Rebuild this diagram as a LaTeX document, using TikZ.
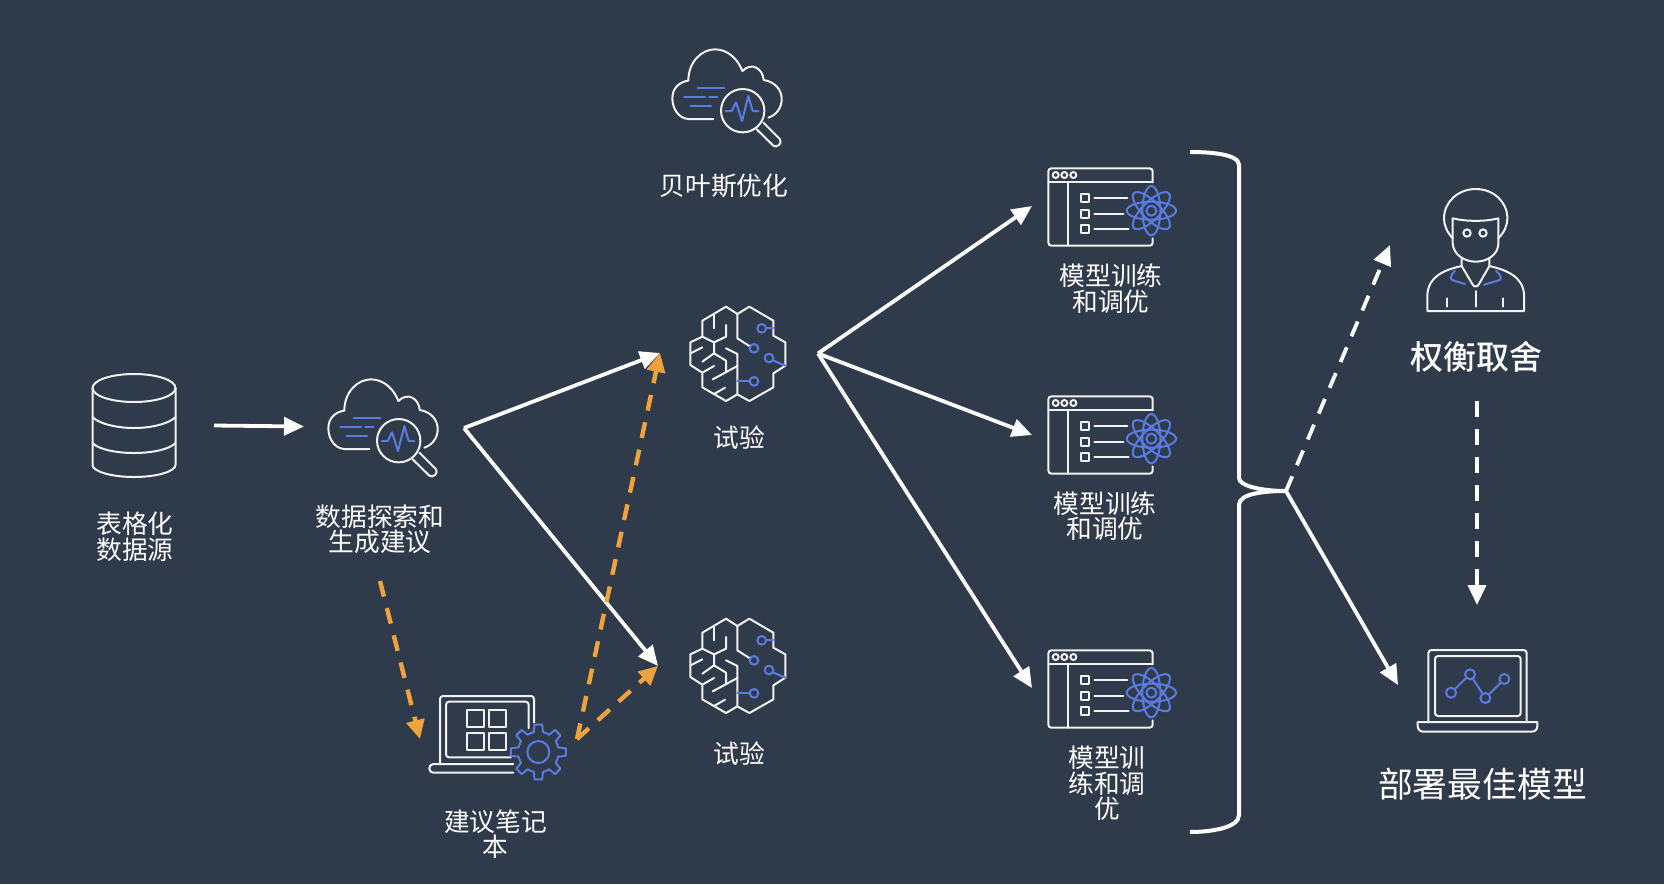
\documentclass[tikz,border=0pt]{standalone}
\usepackage{fontspec}
\setmainfont{Noto Sans CJK SC}
\newfontfamily\mediumcjk{Noto Sans CJK SC Medium}
\usetikzlibrary{arrows.meta}

\definecolor{bgdark}{HTML}{2F3A4A}
\definecolor{flowgold}{HTML}{F0A23C}
\definecolor{iconblue}{HTML}{5A7CE2}
\definecolor{iconline}{HTML}{F2F2F2}

\tikzset{
    flowsolid/.style={draw=white, line width=1.9pt, -{Triangle[length=10pt,width=9pt]}},
    flowdash/.style={flowsolid, dash pattern=on 8pt off 6pt},
    flowgolden/.style={draw=flowgold, line width=2.2pt, dash pattern=on 8pt off 6pt, -{Triangle[length=9.5pt,width=9pt]}},
    label/.style={text=white, align=center, font=\fontsize{12.85}{12.8}\selectfont, inner sep=0pt},
    iconw/.style={draw=iconline, line width=1pt, line join=round, line cap=round},
    iconb/.style={draw=iconblue, line width=1pt, line join=round, line cap=round},
    bluedot/.style={circle, draw=iconblue, line width=1pt, minimum size=5pt, inner sep=0pt},
    % icons are written in crop units, one third of a pixel
    pics/cloudicon/.style={code={
        \begin{scope}[x=0.1667pt,y=-0.1667pt]
            \draw[iconw] (280,267) -- (205,267) .. controls (175,265) and (157,235) .. (157,205)
                .. controls (157,175) and (178,155) .. (205,152)
                .. controls (205,95) and (245,58) .. (285,58)
                .. controls (325,58) and (355,90) .. (367,123)
                .. controls (395,95) and (428,115) .. (431,150)
                .. controls (465,155) and (485,180) .. (485,207)
                .. controls (485,235) and (468,255) .. (445,263);
            \draw[iconw] (368,242) circle (65);
            \draw[iconw] (410,298) -- (460,347) .. controls (470,355) and (488,340) .. (480,328) -- (430,278);
            \draw[iconb] (233,173) -- (313,173);
            \draw[iconb] (193,200) -- (255,200);
            \draw[iconb] (268,200) -- (292,200);
            \draw[iconb] (212,227) -- (273,227);
            \draw[iconb] (317,243) -- (335,243) -- (348,217) -- (366,273) -- (385,198) -- (398,243) -- (415,243);
        \end{scope}
    }},
    pics/brainicon/.style={code={
        \begin{scope}[x=0.1667pt,y=-0.1667pt]
            \draw[iconw] (232,72) -- (198,50) -- (127,92) -- (127,140) -- (91,157) -- (91,225) -- (127,248)
                -- (127,292) -- (198,333) -- (232,313) -- (268,333) -- (340,292) -- (340,250) -- (376,227)
                -- (376,157) -- (340,137) -- (340,92) -- (268,50) -- cycle;
            \draw[iconw] (232,72) -- (232,145) -- (268,168);
            \draw[iconw] (198,175) -- (232,192) -- (232,313);
            \draw[iconw] (162,72) -- (162,115);
            \draw[iconw] (198,105) -- (198,140) -- (162,157) -- (127,140);
            \draw[iconw] (162,157) -- (162,190) -- (127,215);
            \draw[iconw] (162,190) -- (198,212) -- (198,245);
            \draw[iconw] (91,190) -- (127,172);
            \draw[iconw] (127,248) -- (162,228);
            \draw[iconw] (232,228) -- (158,268);
            \draw[iconw] (162,312) -- (195,293);
            \draw[iconb] (305,115) circle (13);
            \draw[iconb] (318,115) -- (340,115);
            \draw[iconb] (282,175) circle (13);
            \draw[iconb] (327,204) circle (13);
            \draw[iconb] (339,211) -- (376,227);
            \draw[iconb] (232,272) -- (268,272);
            \draw[iconb] (282,274) circle (13);
        \end{scope}
    }},
    pics/windowicon/.style={code={
        \begin{scope}[x=0.1667pt,y=-0.1667pt]
            \draw[iconw, rounded corners=1.5pt] (368,250) -- (368,272) -- (55,272) -- (55,40) -- (368,40) -- (368,82);
            \draw[iconw] (55,82) -- (368,82);
            \draw[iconw] (113,82) -- (113,272);
            \foreach \cx in {77,103,130} {
                \draw[iconw] (\cx,60) circle (9);
            }
            \foreach \cy/\ex in {130/292, 177/280, 223/296} {
                \draw[iconw] (154,\cy-12) rectangle (178,\cy+12);
                \draw[iconw] (193,\cy) -- (\ex,\cy);
            }
            \draw[iconb] (364,167) circle (15);
            \foreach \ang in {0,45,90,135} {
                \draw[iconb, rotate around={\ang:(364,167)}] (364,167) ellipse (74 and 27);
            }
        \end{scope}
    }}
}

\begin{document}
\begin{tikzpicture}[x=0.5pt,y=-0.5pt]
    \fill[bgdark] (0,0) rectangle (1664,884);
    \useasboundingbox (0,0) rectangle (1664,884);

    % Data source cylinder
    \begin{scope}[iconw]
        \draw (134,388) ellipse (41.5 and 14);
        \draw (92.5,388) -- (92.5,465) .. controls (92.5,471) and (110,477) .. (134,477)
            .. controls (158,477) and (175.5,471) .. (175.5,465) -- (175.5,388);
        \draw (92.5,417) .. controls (98,423) and (115,428) .. (134,428) .. controls (153,428) and (170,423) .. (175.5,417);
        \draw (92.5,443) .. controls (98,449) and (115,453) .. (134,453) .. controls (153,453) and (170,449) .. (175.5,443);
    \end{scope}
    \node[label] (source) at (135,537) {表格化\\数据源};

    % Exploration and Bayesian icons
    \pic at (276,360) {cloudicon};
    \node[label] (explore) at (380,529.5) {数据探索和\\生成建议};
    \pic at (620,30) {cloudicon};
    \node[label] (bayes) at (724,186) {贝叶斯优化};

    % Notebook
    \begin{scope}[shift={(420,680)}, x=0.1667pt, y=-0.1667pt]
        \draw[iconw, rounded corners=1.5pt] (60,252) -- (60,48) -- (342,48) -- (342,128);
        \draw[iconw, rounded corners=1.5pt] (272,232) -- (78,232) -- (78,65) -- (326,65) -- (326,145);
        \draw[iconw, rounded corners=2pt] (280,252) -- (28,252) -- (28,278) -- (280,278);
        \foreach \bx/\by in {140/90, 208/90, 140/158, 208/158} {
            \draw[iconw] (\bx,\by) rectangle (\bx+51,\by+51);
        }
        \draw[iconb] (355,216) circle (33);
        \foreach \ang in {0,45,...,315} {
            \draw[iconb, shift={(355,216)}] (\ang-22.5:61) -- (\ang-13:61) -- (\ang-8:83) -- (\ang+8:83) -- (\ang+13:61) -- (\ang+22.5:61);
        }
    \end{scope}
    \node[label] (notebook) at (495.5,834) {建议笔记\\本};

    % Trials
    \pic at (660,290) {brainicon};
    \node[label] (trialone) at (739,438) {试验};
    \pic at (660,602) {brainicon};
    \node[label] (trialtwo) at (739,753.5) {试验};

    % Training jobs
    \pic at (1030,155) {windowicon};
    \node[label] (jobone) at (1111,288.5) {模型训练\\和调优};
    \pic at (1030,383) {windowicon};
    \node[label] (jobtwo) at (1105,516) {模型训练\\和调优};
    \pic at (1030,637) {windowicon};
    \node[label] (jobthree) at (1107,783.5) {模型训\\练和调\\优};

    % Person
    \begin{scope}[shift={(1410,180)}, x=0.1667pt, y=-0.1667pt]
        \draw[iconw] (128,175) .. controls (110,155) and (102,135) .. (102,115)
            .. controls (102,65) and (145,27) .. (197,27) .. controls (250,27) and (292,65) .. (292,115)
            .. controls (292,135) and (284,155) .. (265,175);
        \draw[iconw] (128,190) -- (128,115) .. controls (170,125) and (225,125) .. (265,115) -- (265,190)
            .. controls (265,225) and (230,245) .. (197,245) .. controls (165,245) and (130,225) .. (128,190);
        \draw[iconw] (171,159) circle (11);
        \draw[iconw] (219,159) circle (11);
        \draw[iconw] (155,235) -- (155,258) -- (187,312) .. controls (192,322) and (202,322) .. (207,312) -- (238,258) -- (238,235);
        \draw[iconw] (155,258) .. controls (100,270) and (55,290) .. (52,345) -- (52,393) -- (342,393) -- (342,345)
            .. controls (340,290) and (290,270) .. (238,258);
        \draw[iconw] (112,355) -- (112,380);
        \draw[iconw] (197,333) -- (197,380);
        \draw[iconw] (278,355) -- (278,380);
        \draw[iconb] (135,272) .. controls (118,290) and (118,300) .. (135,303) -- (165,312);
        \draw[iconb] (258,272) .. controls (277,290) and (277,300) .. (260,303) -- (222,314);
    \end{scope}
    \node[label, font=\fontsize{16.5}{18}\selectfont\mediumcjk] (tradeoff) at (1476,356.5) {权衡取舍};

    % Deployed model laptop
    \begin{scope}[shift={(1400,640)}, x=0.1667pt, y=-0.1667pt]
        \draw[iconw, rounded corners=1.5pt] (85,246) -- (85,30) -- (380,30) -- (380,246);
        \draw[iconw, rounded corners=1.5pt] (105,48) rectangle (362,228);
        \draw[iconw] (53,246) -- (412,246) -- (412,258) .. controls (412,268) and (405,275) .. (395,275)
            -- (70,275) .. controls (60,275) and (53,268) .. (53,258) -- cycle;
        \node[bluedot] (ptone) at (153,158) {};
        \node[bluedot] (pttwo) at (210,103) {};
        \node[bluedot] (ptthree) at (256,174) {};
        \node[bluedot] (ptfour) at (313,117) {};
        \draw[iconb] (ptone) -- (pttwo) -- (ptthree) -- (ptfour);
    \end{scope}
    \node[label, font=\fontsize{17.4}{19}\selectfont] (deploy) at (1482.5,784) {部署最佳模型};

    % Bracket around the jobs
    \coordinate (bracetip) at (1286,491);
    \draw[white, line width=2pt] (1190,152) .. controls (1210,152) and (1239,154) .. (1239,165) -- (1239,478)
        .. controls (1239,486) and (1262,491) .. (bracetip)
        .. controls (1262,491) and (1239,494) .. (1239,505) -- (1239,815)
        .. controls (1239,828) and (1210,832) .. (1190,832);

    % Connector ends
    \coordinate (sourceout) at (214,425.5);
    \coordinate (explorein) at (304,426.5);
    \coordinate (exploreout) at (464,428);
    \coordinate (explorelow) at (380,581);
    \coordinate (notebookin) at (420,739);
    \coordinate (notebookout) at (577,739);
    \coordinate (trialonein) at (660,353);
    \coordinate (trialtwoin) at (658,666);
    \coordinate (trialoneout) at (818,353.5);
    \coordinate (jobonein) at (1032,206);
    \coordinate (jobtwoin) at (1032,435);
    \coordinate (jobthreein) at (1032,688);
    \coordinate (tradeoffin) at (1390,245);
    \coordinate (deployin) at (1398,685);
    \coordinate (tradeoffout) at (1477,401);
    \coordinate (deploytop) at (1477,605);

    % Solid arrows
    \draw[flowsolid] (sourceout) -- (explorein);
    \draw[flowsolid] (exploreout) -- (trialonein);
    \draw[flowsolid] (exploreout) -- (trialtwoin);
    \draw[flowsolid] (trialoneout) -- (jobonein);
    \draw[flowsolid] (trialoneout) -- (jobtwoin);
    \draw[flowsolid] (trialoneout) -- (jobthreein);
    \draw[flowsolid] (bracetip) -- (deployin);

    % Dashed arrows
    \draw[flowdash] (bracetip) -- (tradeoffin);
    \draw[flowdash] (tradeoffout) -- (deploytop);
    \draw[flowgolden] (explorelow) -- (notebookin);
    \draw[flowgolden] (notebookout) -- (trialonein);
    \draw[flowgolden] (notebookout) -- (trialtwoin);
\end{tikzpicture}
\end{document}
